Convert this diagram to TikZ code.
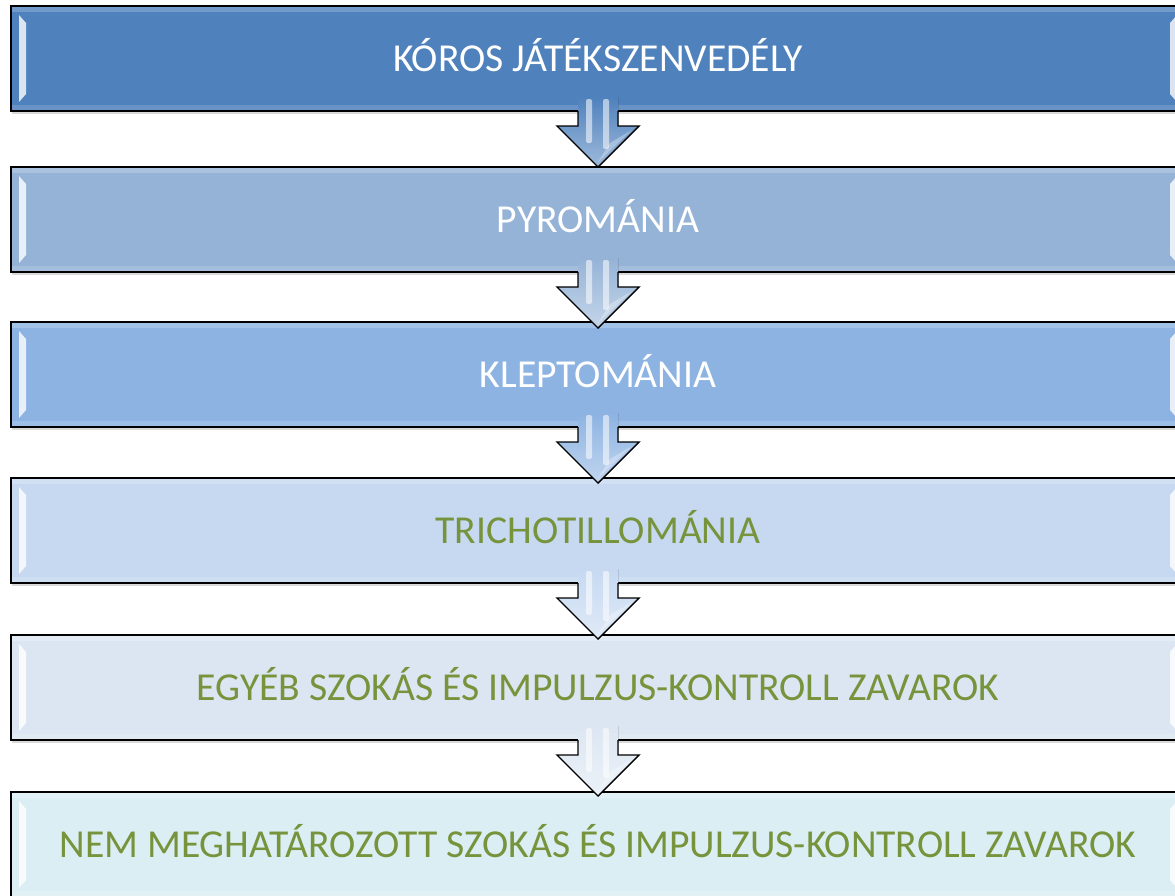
\documentclass[tikz,border=0pt]{standalone}
\usepackage{fontspec}
\setmainfont{Carlito}
\usetikzlibrary{calc,shadows}

\definecolor{kekA}{HTML}{4F81BD}
\definecolor{kekB}{HTML}{95B3D7}
\definecolor{kekC}{HTML}{8DB3E2}
\definecolor{kekD}{HTML}{C6D9F1}
\definecolor{kekE}{HTML}{DCE6F2}
\definecolor{kekF}{HTML}{DBEEF4}
\definecolor{zold}{HTML}{77933C}

\tikzset{
  doboz/.style={rectangle, draw=black, line width=1.6pt, inner sep=0pt, outer sep=0pt,
    minimum width=1174pt, minimum height=105pt, text height=25.5pt, text depth=0pt,
    font=\fontsize{39.6}{44}\selectfont,
    drop shadow={shadow xshift=1pt, shadow yshift=-3pt, opacity=.3}},
  nyil/.style={draw=black, line width=1.4pt, line join=miter},
}

\begin{document}
\begin{tikzpicture}[x=1pt, y=-1pt]
		\useasboundingbox (0,0) rectangle (1175,895);
		\clip (0,0) rectangle (1175,895);
		
		% Dobozok
		\node[doboz, fill=kekA, text=white] (b1) at (598,58.5) {KÓROS JÁTÉKSZENVEDÉLY};
		\node[doboz, fill=kekB, text=white] (b2) at (598,219.5) {PYROMÁNIA};
		\node[doboz, fill=kekC, text=white] (b3) at (598,374.5) {KLEPTOMÁNIA};
		\node[doboz, fill=kekD, text=zold] (b4) at (598,530.5) {TRICHOTILLOMÁNIA};
		\node[doboz, fill=kekE, text=zold] (b5) at (598,687.5) {EGYÉB SZOKÁS ÉS IMPULZUS-KONTROLL ZAVAROK};
		\node[doboz, fill=kekF, text=zold] (b6) at (598,844.5) {NEM MEGHATÁROZOTT SZOKÁS ÉS IMPULZUS-KONTROLL ZAVAROK};
		
		% Fenyes szelek
		\foreach \n in {b1,b2,b3,b4,b5,b6} {
			\fill[white, opacity=.2] ($(\n.north west)+(1,1)$) rectangle ($(\n.north east)+(-1,6)$);
			\fill[white, opacity=.15] ($(\n.south west)+(1,-6)$) rectangle ($(\n.south east)+(-1,-1)$);
			\fill[white, opacity=.8] ($(\n.north west)+(8,9)$) -- ($(\n.north west)+(15,17)$)
				-- ($(\n.south west)+(15,-17)$) -- ($(\n.south west)+(8,-9)$) -- cycle;
			\fill[white, opacity=.8] ($(\n.north east)+(-8,9)$) -- ($(\n.north east)+(-15,17)$)
				-- ($(\n.south east)+(-15,-17)$) -- ($(\n.south east)+(-8,-9)$) -- cycle;
		}
		
		% Nyilak
		\foreach \f/\a/\c in {b1/b2/kekA, b2/b3/kekB, b3/b4/kekC, b4/b5/kekD, b5/b6/kekE} {
			\coordinate (hegy) at ($(\f.south)+(0,56)$);
			\fill[top color=\c, bottom color=\c!55!white]
				($(\f.south)+(-20,-14)$) -- ($(\f.south)+(-20,15)$) -- ($(\f.south)+(-41,15)$)
				-- (hegy) -- ($(\f.south)+(41,15)$) -- ($(\f.south)+(20,15)$) -- ($(\f.south)+(20,-14)$) -- cycle;
			\fill[white, opacity=.55, rounded corners=2pt] ($(\f.south)+(-12,-12)$) rectangle ($(\f.south)+(-6,32)$);
			\fill[white, opacity=.55, rounded corners=2pt] ($(\f.south)+(5,-12)$) rectangle ($(\f.south)+(11,38)$);
			\fill[white, opacity=.3] ($(hegy)+(0,-5)$) -- ($(hegy)+(34,-37)$) -- ($(hegy)+(12,-24)$) -- cycle;
			\draw[nyil] ($(\f.south)+(-20,0)$) -- ($(\f.south)+(-20,15)$) -- ($(\f.south)+(-41,15)$)
				-- (hegy) -- ($(\f.south)+(41,15)$) -- ($(\f.south)+(20,15)$) -- ($(\f.south)+(20,0)$);
		}
	\end{tikzpicture}
\end{document}
